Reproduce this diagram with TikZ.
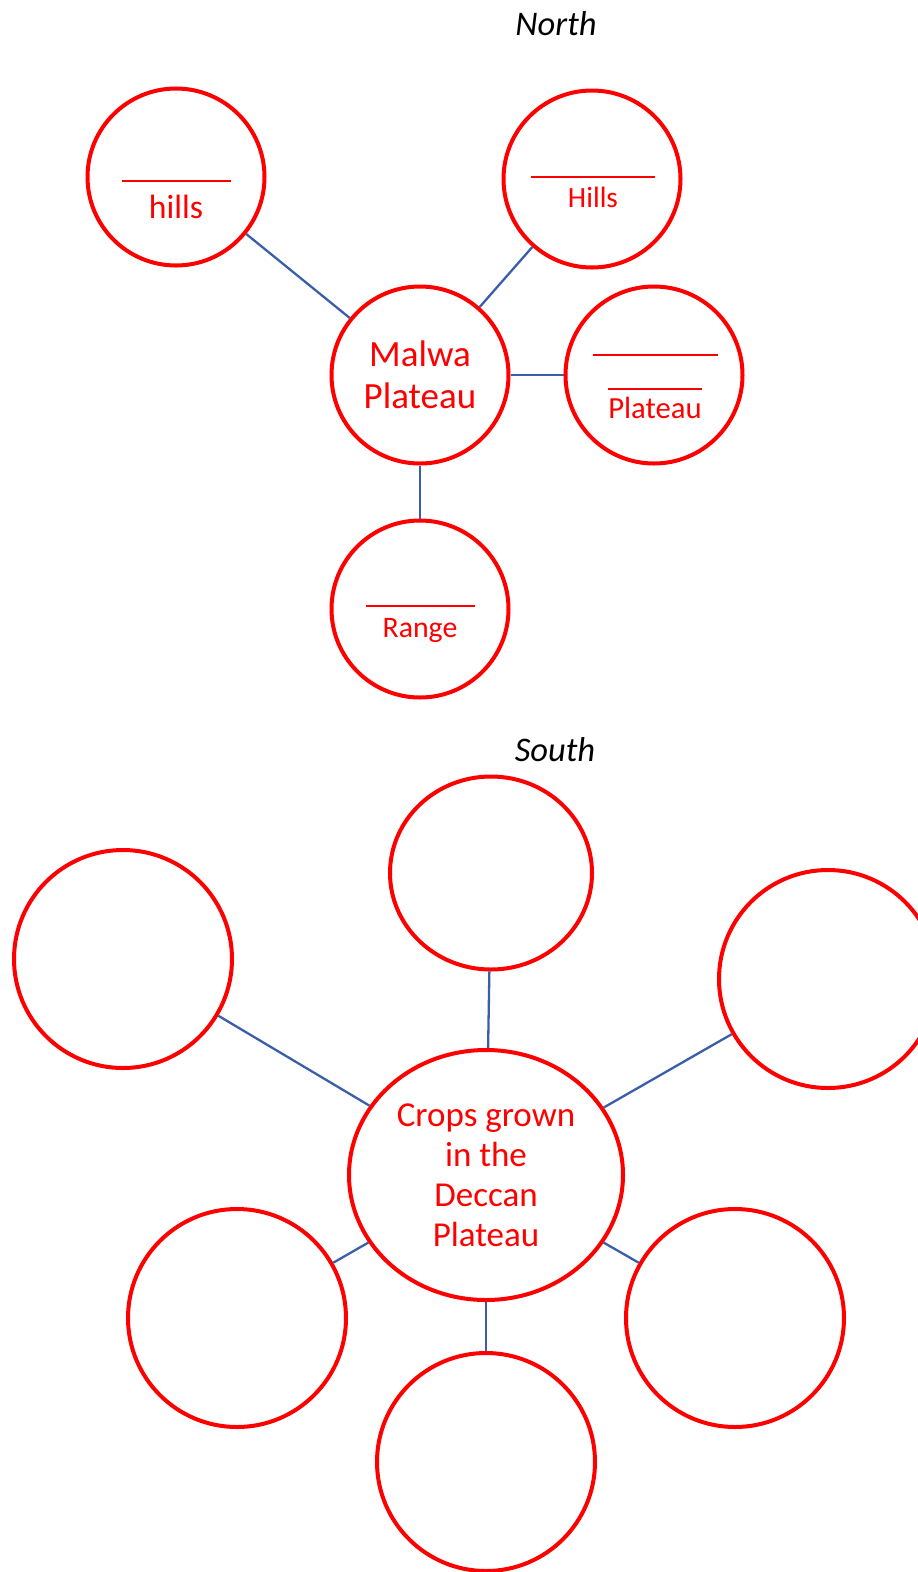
\documentclass[tikz,border=0pt]{standalone}
\usepackage{fontspec}
\setmainfont{Carlito}
\usetikzlibrary{shapes.geometric}
\definecolor{cred}{RGB}{255,0,0}
\definecolor{cblue}{RGB}{58,95,168}
\tikzset{
  bub/.style={circle,draw=cred,line width=4pt,minimum size=#1,inner sep=0pt,text=cred,fill=white},
  oval/.style n args={2}{ellipse,draw=cred,line width=4pt,minimum width=#1,minimum height=#2,inner sep=0pt,text=cred,fill=white},
  conn/.style={draw=cblue,line width=2.3pt},
  blankline/.style={draw=cred,line width=2.8pt},
  lab/.style={text=cred,inner sep=0pt,anchor=base},
  head/.style={text=black,inner sep=0pt,anchor=base,font=\fontsize{34.5}{40}\selectfont\itshape}
}
\begin{document}
\begin{tikzpicture}[x=1pt,y=-1pt]
\useasboundingbox (0,0) rectangle (918,1572);
\clip (0,0) rectangle (918,1572);
% North
\node[head] (north) at (556,35) {North};
\node[bub=177] (hillsA) at (176,177) {};
\node[bub=177] (hillsB) at (592,179) {};
\node[bub=177,align=center,font=\fontsize{37}{42}\selectfont] (malwa) at (420,375) {Malwa\\Plateau};
\node[bub=177] (plat) at (654,375) {};
\node[bub=177] (range) at (420,609) {};
\draw[conn] (malwa) -- (hillsA);
\draw[conn] (malwa) -- (hillsB);
\draw[conn] (malwa) -- (plat);
\draw[conn] (malwa) -- (range);
% blanks and labels
\draw[blankline] (122,181) -- (231,181);
\node[lab,font=\fontsize{33.7}{40}\selectfont] (tA) at (176,218) {hills};
\draw[blankline] (531,177) -- (655,177);
\node[lab,font=\fontsize{29.4}{35}\selectfont] (tB) at (593,207) {Hills};
\draw[blankline] (593,355) -- (718,355);
\draw[blankline] (608,389) -- (702,389);
\node[lab,font=\fontsize{30.7}{36}\selectfont] (tP) at (655,418) {Plateau};
\draw[blankline] (366,606) -- (475,606);
\node[lab,font=\fontsize{29.8}{36}\selectfont] (tR) at (420,637) {Range};
% South
\node[head] (south) at (555,761) {South};
\node[oval={202}{193}] (top) at (491,873) {};
\node[bub=218] (left) at (123,959) {};
\node[bub=218] (right) at (828,979) {};
\node[bub=218] (bl) at (237,1318) {};
\node[bub=218] (bc) at (486,1462) {};
\node[bub=218] (br) at (735,1318) {};
\node[oval={274}{250},align=center,font=\fontsize{35}{40}\selectfont] (crops) at (486,1175) {Crops grown\\in the\\Deccan\\Plateau};
\draw[conn] (crops) -- (top);
\draw[conn] (crops) -- (left);
\draw[conn] (crops) -- (right);
\draw[conn] (crops) -- (bl);
\draw[conn] (crops) -- (bc);
\draw[conn] (crops) -- (br);
\end{tikzpicture}
\end{document}
